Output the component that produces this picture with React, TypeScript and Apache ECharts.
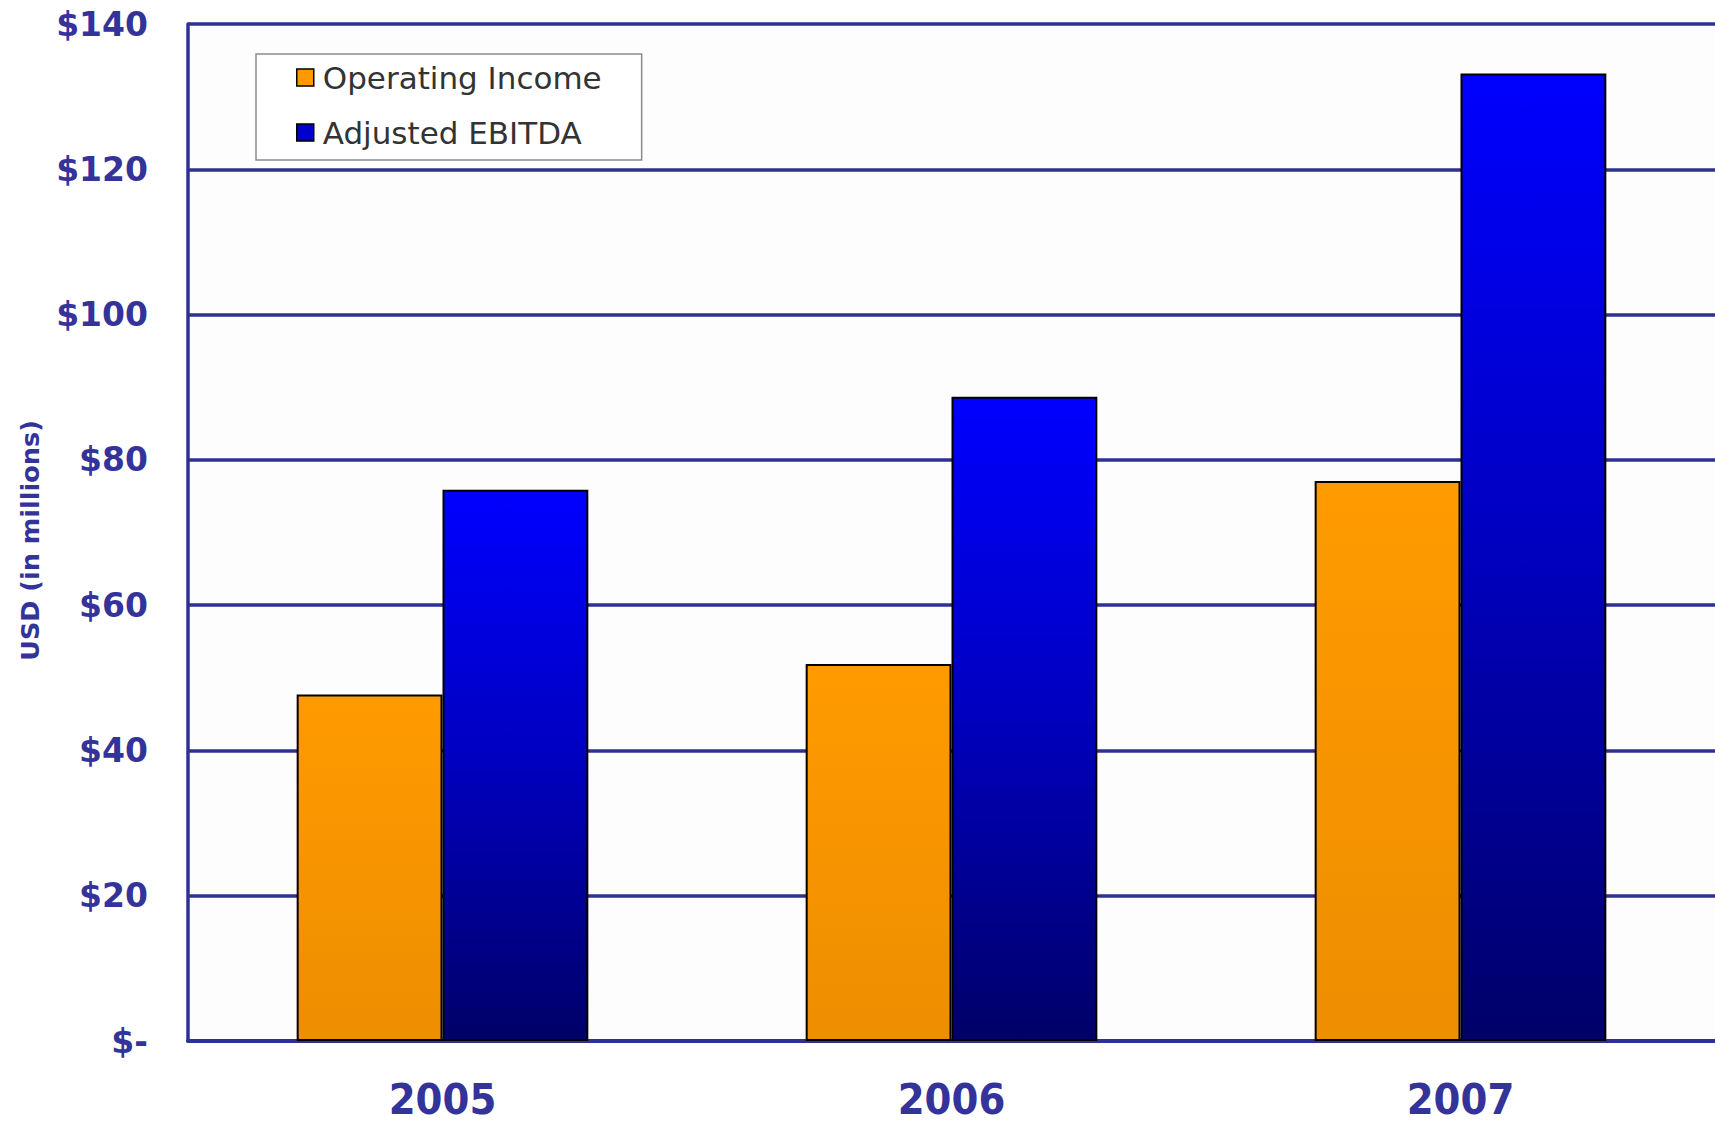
import React, { useEffect, useRef } from "react";
import * as echarts from "echarts";

const categories = ["2005", "2006", "2007"];
const operatingIncome = [47.7, 51.9, 77.1];
const adjustedEbitda = [75.9, 88.7, 133.2];
const seriesNames = ["Operating Income", "Adjusted EBITDA"];
const yTicks = { min: 0, max: 140, interval: 20 };

const TEXT = "#33339A";
const GRID = "#2E3192";

export default function App() {
  const ref = useRef<HTMLDivElement>(null);
  useEffect(() => {
    if (!ref.current) return;
    const chart = echarts.init(ref.current, null, { renderer: "svg" });
    chart.setOption({
      animation: false,
      backgroundColor: "#ffffff",
      grid: {
        left: 188,
        right: -3,
        top: 24,
        bottom: 87,
        show: true,
        backgroundColor: "#FDFDFD",
        borderWidth: 0,
      },
      legend: {
        orient: "vertical",
        left: 256,
        top: 54,
        padding: [8, 40, 12, 40],
        itemGap: 24,
        itemWidth: 17,
        itemHeight: 17,
        backgroundColor: "#ffffff",
        borderColor: "#8a8a8a",
        borderWidth: 1.5,
        textStyle: { fontFamily: "DejaVu Sans", fontSize: 31, color: "#333333", padding: [0, 0, 0, 4] },
        data: [
          { name: seriesNames[0], icon: "rect", itemStyle: { color: "#FF9900", borderColor: "#000", borderWidth: 1.5 } },
          { name: seriesNames[1], icon: "rect", itemStyle: { color: "#0000CC", borderColor: "#000", borderWidth: 1.5 } },
        ],
      },
      xAxis: {
        type: "category",
        data: categories,
        axisLine: { show: true, lineStyle: { color: GRID, width: 4 } },
        axisTick: { show: false },
        axisLabel: {
          margin: 40,
          lineHeight: 36,
          fontFamily: "DejaVu Sans Condensed, DejaVu Sans",
          fontWeight: "bold",
          fontSize: 43,
          color: TEXT,
        },
      },
      yAxis: {
        type: "value",
        min: yTicks.min,
        max: yTicks.max,
        interval: yTicks.interval,
        name: "USD (in millions)",
        nameLocation: "middle",
        nameGap: 145,
        nameTextStyle: {
          fontFamily: "DejaVu Sans",
          fontWeight: "bold",
          fontSize: 25.5,
          color: TEXT,
          padding: [0, 16, 0, 0],
        },
        axisLine: { show: true, lineStyle: { color: GRID, width: 3.5 } },
        axisTick: { show: false },
        splitLine: { show: true, lineStyle: { color: GRID, width: 3.5 } },
        axisLabel: {
          margin: 40,
          fontFamily: "DejaVu Sans",
          fontWeight: "bold",
          fontSize: 33,
          color: TEXT,
          formatter: (v: number) => (v === 0 ? "$-" : "$" + v),
        },
      },
      series: [
        {
          name: seriesNames[0],
          type: "bar",
          data: operatingIncome,
          barGap: "0%",
          barCategoryGap: "42.7%",
          itemStyle: {
            borderColor: "#000000",
            borderWidth: 2,
            color: new echarts.graphic.LinearGradient(0, 0, 0, 1, [
              { offset: 0, color: "#FF9A00" },
              { offset: 1, color: "#EE8E00" },
            ]),
          },
        },
        {
          name: seriesNames[1],
          type: "bar",
          data: adjustedEbitda,
          barGap: "0%",
          barCategoryGap: "42.7%",
          itemStyle: {
            borderColor: "#000000",
            borderWidth: 2,
            color: new echarts.graphic.LinearGradient(0, 0, 0, 1, [
              { offset: 0, color: "#0000FF" },
              { offset: 0.5, color: "#0000BE" },
              { offset: 1, color: "#000068" },
            ]),
          },
        },
      ],
    });
    return () => chart.dispose();
  }, []);
  return (
    <div
      ref={ref}
      style={{ position: "fixed", left: 0, top: 0, width: 1715, height: 1128, background: "#fff" }}
    />
  );
}
